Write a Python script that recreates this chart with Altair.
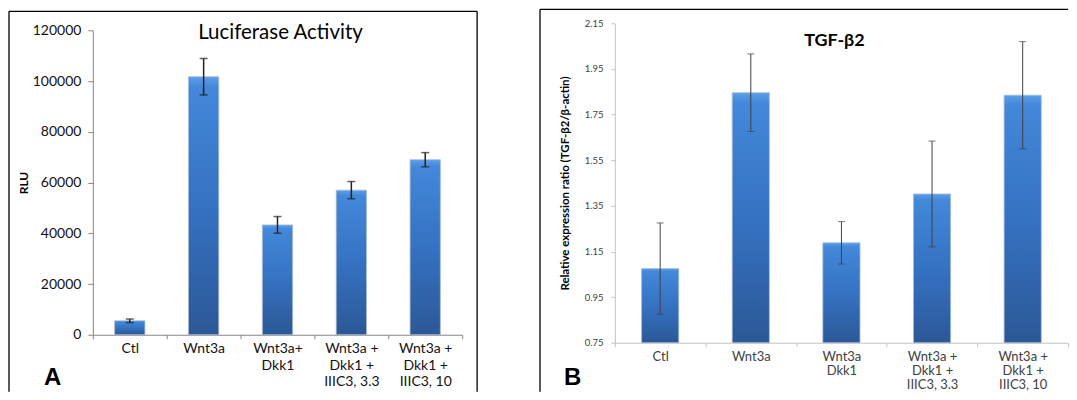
import altair as alt
import pandas as pd

# ---- Panel A data (Luciferase Activity) ----
cats_a = ["Ctl", "Wnt3a", "Wnt3a+\nDkk1", "Wnt3a +\nDkk1 +\nIIIC3, 3.3", "Wnt3a +\nDkk1 +\nIIIC3, 10"]
rlu_mean = [5500, 101700, 43300, 57000, 69000]
rlu_err = [700, 7200, 3300, 3400, 2800]
y_ticks_a = [0, 20000, 40000, 60000, 80000, 100000, 120000]

# ---- Panel B data (TGF-b2) ----
cats_b = ["Ctl", "Wnt3a", "Wnt3a\nDkk1", "Wnt3a +\nDkk1 +\nIIIC3, 3.3", "Wnt3a +\nDkk1 +\nIIIC3, 10"]
tgf_mean = [1.075, 1.846, 1.188, 1.402, 1.835]
tgf_err = [0.200, 0.170, 0.093, 0.232, 0.235]
y_ticks_b = [0.75, 0.95, 1.15, 1.35, 1.55, 1.75, 1.95, 2.15]

df_a = pd.DataFrame({"cat": cats_a, "v": rlu_mean, "e": rlu_err})
df_b = pd.DataFrame({"cat": cats_b, "v": tgf_mean, "e": tgf_err})
one = pd.DataFrame({"k": [0]})

FONT = "Lato"
grad = alt.Gradient(
    gradient="linear",
    stops=[
        alt.GradientStop(color="#5c9fe9", offset=0),
        alt.GradientStop(color="#4388d9", offset=0.04),
        alt.GradientStop(color="#3572c2", offset=0.5),
        alt.GradientStop(color="#2b5896", offset=1),
    ],
    x1=0, x2=0, y1=0, y2=1,
)

WA, HA = 370, 312
WB, HB = 454, 320


def panel(df, cats, ymin, ymax, yrange, yticks, yfmt, ytitle, yaxis_kw, xaxis_kw, cap, err_color, err_w,
          W, H, title, title_kw, title_xy, letter, letter_xy, border, right_edge):
    base = alt.Chart(df).transform_calculate(lo="datum.v - datum.e", hi="datum.v + datum.e")
    xenc = alt.X("cat:N", sort=cats, scale=alt.Scale(paddingInner=0, paddingOuter=0),
                 axis=alt.Axis(title=None, labelExpr="split(datum.label, '\\n')", tickBand="extent",
                               labelAngle=0, labelFont=FONT, **xaxis_kw))
    xs = alt.X("cat:N", sort=cats)
    ysc = alt.Scale(domain=[ymin, ymax], zero=False, nice=False, range=yrange)
    bars = base.mark_bar(width=alt.RelativeBandSize(0.41), color=grad, stroke="#a9bad3",
                         strokeWidth=0.8).encode(
        x=xenc,
        y=alt.Y("v:Q", scale=ysc,
                axis=alt.Axis(values=yticks, format=yfmt, grid=False, title=ytitle,
                              labelFont=FONT, titleFont=FONT, titleFontWeight="bold",
                              titleColor="black", **yaxis_kw)),
        y2=alt.datum(ymin),
    )
    rule = base.mark_rule(color=err_color, strokeWidth=err_w).encode(x=xs, y="lo:Q", y2="hi:Q")
    tick_hi = base.mark_tick(color=err_color, size=cap, thickness=err_w).encode(x=xs, y="hi:Q")
    tick_lo = base.mark_tick(color=err_color, size=cap, thickness=err_w).encode(x=xs, y="lo:Q")
    ttl = alt.Chart(one).mark_text(text=title, font=FONT, align="center", baseline="middle",
                                   color="black", **title_kw).encode(
        x=alt.value(title_xy[0]), y=alt.value(title_xy[1]))
    let = alt.Chart(one).mark_text(text=letter, font="Liberation Sans", fontSize=24, fontWeight="bold",
                                   align="left", baseline="alphabetic", color="black").encode(
        x=alt.value(letter_xy[0]), y=alt.value(letter_xy[1]))
    layers = [bars, rule, tick_hi, tick_lo, ttl, let]
    bl, bt, br, bb = border
    layers.append(alt.Chart(one).mark_rule(color="black", strokeWidth=1.3).encode(
        x=alt.value(bl), y=alt.value(bt), y2=alt.value(bb)))
    layers.append(alt.Chart(one).mark_rule(color="black", strokeWidth=1.3).encode(
        x=alt.value(bl), x2=alt.value(br), y=alt.value(bt)))
    if right_edge:
        layers.append(alt.Chart(one).mark_rule(color="black", strokeWidth=1.3).encode(
            x=alt.value(br), y=alt.value(bt), y2=alt.value(bb)))
    return alt.layer(*layers).properties(width=W, height=H)


chart_a = panel(
    df_a, cats_a, 0, 120000, [HA, 7], y_ticks_a, "d", "RLU",
    dict(domainColor="#868686", tickColor="#868686", tickSize=5, labelPadding=7,
         labelFontSize=14, labelColor="#111111", titleFontSize=12, titlePadding=2),
    dict(domainColor="#868686", tickColor="#868686", tickSize=4, labelPadding=3,
         labelFontSize=14, labelLineHeight=16.5, labelColor="#111111"),
    8, "#222222", 1.5, WA, HA,
    "Luciferase Activity", dict(fontSize=20.5, fontWeight="normal"), (188, 10),
    "A", (-49, 362), (-84, -12, WA + 15, 369), True,
)

chart_b = panel(
    df_b, cats_b, 0.75, 2.15, [HB, 0], y_ticks_b, ".2f", "Relative expression ratio (TGF-β2/β-actin)",
    dict(domainColor="#c4c4c4", tickColor="#c4c4c4", tickSize=4, labelPadding=8,
         labelFontSize=9.5, labelColor="#404040", titleFontSize=11.5, titlePadding=14),
    dict(domainColor="#c4c4c4", tickColor="#c4c4c4", tickSize=4, labelPadding=4,
         labelFontSize=13, labelLineHeight=14, labelColor="#404040"),
    7, "#404040", 1, WB, HB,
    "TGF-β2", dict(fontSize=18, fontWeight="bold"), (220, 18),
    "B", (-51, 362), (-75, -14, WB, 369), False,
)

chart = alt.hconcat(chart_a, chart_b, spacing=61).properties(padding=0).configure_view(stroke=None)

chart.save("out.html", embed_options={"renderer": "svg", "actions": False})
